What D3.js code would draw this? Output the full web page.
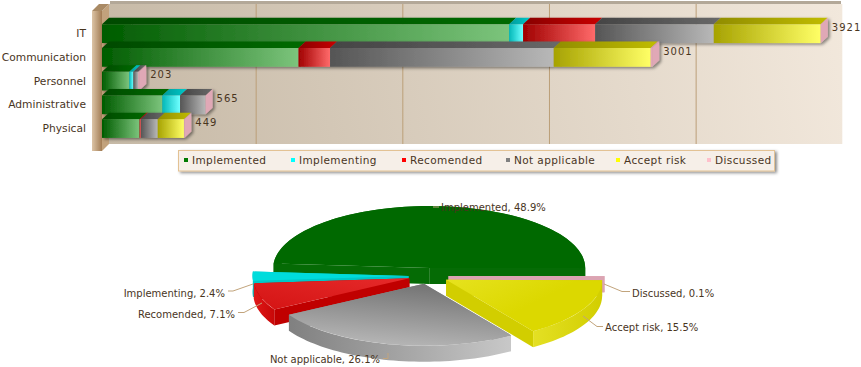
<!DOCTYPE html>
<html>
<head>
<meta charset="utf-8">
<style>
html,body{margin:0;padding:0;background:#fff;overflow:hidden}
svg{display:block}
text{font-family:"DejaVu Sans",sans-serif;fill:#49351e}
</style>
<script src="https://cdn.jsdelivr.net/npm/d3@7/dist/d3.min.js"></script>
</head>
<body>
<svg id="c" width="861" height="367"></svg>
<script>
// ---- data ----
const categories = ["IT","Communication","Personnel","Administrative","Physical"];
const seriesNames = ["Implemented","Implementing","Recomended","Not applicable","Accept risk","Discussed"];
const implemented   = [2221,1072,149,329,205];
const implementing  = [76,0,22,97,0];
const recomended    = [393,172,0,0,7];
const notApplicable = [647,1220,27,139,92];
const acceptRisk    = [583,529,0,0,143];
const discussed     = [1,8,5,0,2];
const totals = [3921,3001,203,565,449];
const axisTicks = [800,1600,2400,3200];
const piePercents = [48.9,2.4,7.1,26.1,15.5,0.1];

// ---- styles ----
const swatch = ["#007a00","#00ffff","#ff0000","#808080","#ffff00","#ffc0cb"];
const frontStops = [["#005c00","#7cc47c"],["#00b8b8","#70ffff"],["#a00000","#ff6a6a"],["#555555","#b8b8b8"],["#a6a200","#ffff66"],["#e3a9b7","#e3a9b7"]];
const topStops = [["#004a00","#006a00"],["#009a9a","#00c8c8"],["#880000","#c80000"],["#444444","#686868"],["#908c00","#c0bc00"],["#d9a0ae","#d9a0ae"]];
const pieWall = ["#056b05","#00c8c8","#c00000","#8c8c8c","#d2ce00","#dba4b2"];

const svg = d3.select("#c");
const defs = svg.append("defs");
function grad(id,c0,c1,x1=0,y1=0,x2=1,y2=0){
  const g=defs.append("linearGradient").attr("id",id).attr("x1",x1).attr("y1",y1).attr("x2",x2).attr("y2",y2);
  g.append("stop").attr("offset",0).attr("stop-color",c0);
  g.append("stop").attr("offset",1).attr("stop-color",c1);
  return g;
}
seriesNames.forEach((_,i)=>{grad("f"+i,...frontStops[i]);grad("t"+i,...topStops[i]);});
grad("bg","#c6b9a6","#f2e8dc",109,144,842,4).attr("gradientUnits","userSpaceOnUse");
grad("wall","#dcc4a6","#a27c54");
grad("piegray","#727272","#b8b8b8",0.65,0,0.35,1);
grad("piegrayw","#808080","#c8c8c8");
grad("pieyel","#e6e21e","#dcd800",0,0,0.6,0.4);
grad("piered","#d41414","#e62a2a",0,1,1,0);
grad("pieredw","#e01818","#c80808");
grad("pieyelw","#e4e024","#d2ce00");
const sh=defs.append("filter").attr("id","shadow").attr("x","-5%").attr("y","-30%").attr("width","112%").attr("height","170%");
sh.append("feDropShadow").attr("dx",2).attr("dy",1.5).attr("stdDeviation",1.6).attr("flood-color","#000").attr("flood-opacity",0.45);

// ---- bar chart ----
const dx=7, dy=6.5;
const x=d3.scaleLinear().domain([0,4000]).range([102,835.3]);
const y=d3.scaleBand().domain(categories).range([24.3,137.9]).paddingInner(0.21).paddingOuter(0);
const plotTop=4, plotBottom=144;

svg.append("rect").attr("x",110).attr("y",1).attr("width",731).attr("height",3).attr("fill","#b3a898");
svg.append("rect").attr("x",x(0)+dx).attr("y",plotTop).attr("width",x(4000)-x(0)).attr("height",plotBottom-plotTop).attr("fill","url(#bg)");
svg.append("g").selectAll("line").data(axisTicks).join("line")
  .attr("x1",d=>x(d)+dx+.5).attr("x2",d=>x(d)+dx+.5).attr("y1",plotTop).attr("y2",plotBottom)
  .attr("stroke","#bb9f78").attr("stroke-width",1);

// 3D wall
const wall=svg.append("g");
wall.append("polygon").attr("points",`${x(0)},${plotTop+7} ${x(0)+dx},${plotTop} ${x(0)+dx},${plotBottom} ${x(0)},${plotBottom+7}`).attr("fill","#c2a27c");
wall.append("polygon").attr("points",`${x(0)-10},${plotTop+7} ${x(0)-3},${plotTop} ${x(0)+dx},${plotTop} ${x(0)},${plotTop+7}`).attr("fill","#a98a65");
wall.append("rect").attr("x",x(0)-10).attr("y",plotTop+7).attr("width",10).attr("height",plotBottom-plotTop).attr("fill","url(#wall)");

const seriesValues=[implemented,implementing,recomended,notApplicable,acceptRisk,discussed];
const stack=d3.stack().keys(d3.range(6)).value((d,k)=>seriesValues[k][d]);
const layers=stack(d3.range(categories.length));

const barG=svg.append("g");
categories.forEach((cat,ci)=>{
  const g=barG.append("g").attr("filter","url(#shadow)");
  const by=y(cat), bh=y.bandwidth();
  layers.forEach((ly,si)=>{
    const [a,b]=ly[ci];
    if(b<=a) return;
    const xa=x(a), xb=x(b);
    g.append("path").attr("d",`M${xa},${by}L${xa+dx},${by-dy}L${xb+dx},${by-dy}L${xb},${by}Z`).attr("fill",`url(#t${si})`);
    g.append("rect").attr("x",xa).attr("y",by).attr("width",xb-xa).attr("height",bh).attr("fill",`url(#f${si})`);
  });
  const xe=x(totals[ci]);
  g.append("path").attr("d",`M${xe},${by}L${xe+dx},${by-dy}L${xe+dx},${by+bh-dy}L${xe},${by+bh}Z`).attr("fill","#e0a8b6");
  svg.append("text").attr("x",xe+11).attr("y",by+6.5).attr("font-size",10).style("letter-spacing","1px").text(totals[ci]);
  svg.append("text").attr("x",86).attr("y",by+bh/2+3.5).attr("text-anchor","end").attr("font-size",10.7).text(cat);
});

// legend
const legendSwatchX=[184,291,402,506,616,707];
const lg=svg.append("g");
lg.append("rect").attr("x",178.5).attr("y",150.5).attr("width",596).attr("height",20.5).attr("fill","#f6efe8").attr("stroke","#e3c294").attr("filter","url(#shadow)");
seriesNames.forEach((n,i)=>{
  lg.append("rect").attr("x",legendSwatchX[i]).attr("y",158).attr("width",4).attr("height",4).attr("fill",swatch[i]);
  lg.append("text").attr("x",legendSwatchX[i]+8).attr("y",164).attr("font-size",10.5).style("letter-spacing","0.4px").text(n);
});

// ---- pie ----
const cx=428.5, cy=276, rx=156, ry=62, depth=16, explode=20;
const pie=d3.pie().sort(null).value(d=>d).startAngle(Math.PI/2).endAngle(Math.PI/2-2*Math.PI);
const arcs=pie(piePercents);
const arcGen=d3.arc().innerRadius(0).outerRadius(rx);
const pieG=svg.append("g");
const px=a=>Math.sin(a)*rx, py=a=>-Math.cos(a)*ry;
const line=d3.line();
const topFill=["#006900","#00dcdc","url(#piered)","url(#piegray)","url(#pieyel)","#dfa9b6"];
const wallFill=["#056b05","#00c8c8","url(#pieredw)","url(#piegrayw)","url(#pieyelw)","#dba4b2"];
const drawOrder=[0,5,1,2,3,4];
drawOrder.forEach(i=>{
  const d=arcs[i];
  const mid=(d.startAngle+d.endAngle)/2;
  const ox=cx+Math.sin(mid)*explode, oy=cy-Math.cos(mid)*explode*ry/rx;
  const g=pieG.append("g").attr("transform",`translate(${ox},${oy})`);
  [d.startAngle,d.endAngle].forEach(a=>{
    g.append("path").attr("d",line([[0,0],[px(a),py(a)],[px(a),py(a)+depth],[0,depth]])+"Z").attr("fill",pieWall[i]);
  });
  const n=Math.max(2,Math.ceil(Math.abs(d.endAngle-d.startAngle)*30));
  const angs=d3.range(n+1).map(k=>d.startAngle+(d.endAngle-d.startAngle)*k/n);
  const outer=angs.map(a=>[px(a),py(a)]).concat(angs.slice().reverse().map(a=>[px(a),py(a)+depth]));
  g.append("path").attr("d",line(outer)+"Z").attr("fill",wallFill[i]);
  g.append("path").attr("transform",`scale(1,${ry/rx})`).attr("d",arcGen(d)).attr("fill",topFill[i]);
});

// pie labels
const labelAnchor=[
  {x:441,y:211,a:"start",l:[[439,207],[433,207]]},
  {x:225,y:296.5,a:"end",l:[[228,291],[233,291],[253,284]]},
  {x:235,y:317.5,a:"end",l:[[238,312.5],[244,312.5],[262,303]]},
  {x:380,y:363,a:"end",l:[[383,358.5],[388,358.5],[388,353]]},
  {x:605,y:330.5,a:"start",l:[[603,326.5],[597,326.5],[583,316]]},
  {x:632,y:296.5,a:"start",l:[[630,291.5],[622,291.5],[604,284]]}
];
const labG=svg.append("g");
seriesNames.forEach((n,i)=>{
  const L=labelAnchor[i];
  labG.append("path").attr("d",line(L.l)).attr("fill","none").attr("stroke","#c2a47c").attr("stroke-width",1);
  labG.append("text").attr("x",L.x).attr("y",L.y).attr("text-anchor",L.a).attr("font-size",10).text(`${n}, ${piePercents[i].toFixed(1)}%`);
});
</script>
</body>
</html>
